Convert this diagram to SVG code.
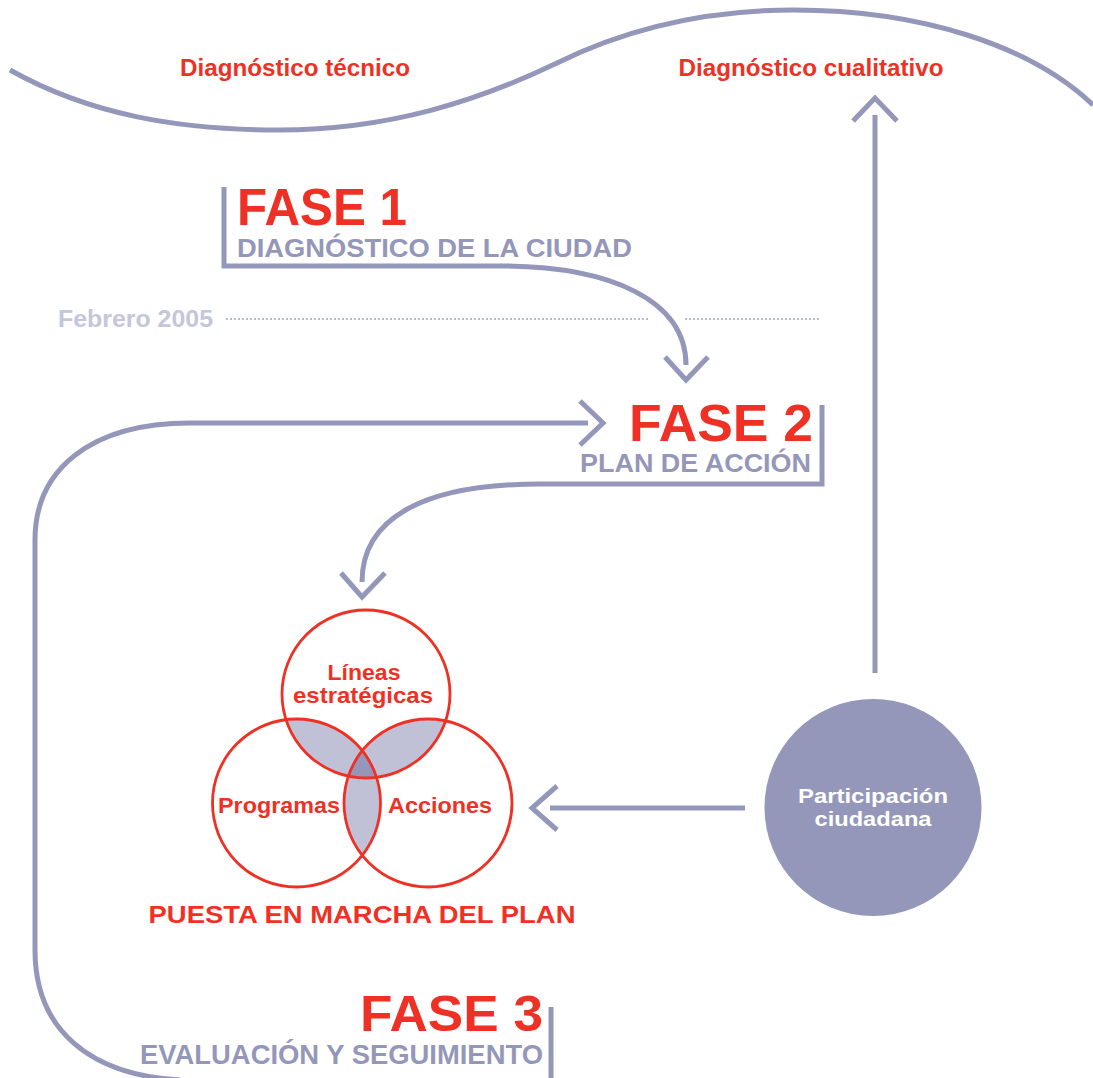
<svg xmlns="http://www.w3.org/2000/svg" width="1093" height="1078" viewBox="0 0 1093 1078">
<style>
.ln{fill:none;stroke:#9497b9;stroke-width:5;stroke-linecap:butt;stroke-linejoin:miter}
.dot{fill:none;stroke:#b9bbd3;stroke-width:2.2;stroke-dasharray:2 2}
.red{fill:#ee3124;font-family:"Liberation Sans",Arial,sans-serif;font-weight:bold}
.gray{fill:#9497b9;font-family:"Liberation Sans",Arial,sans-serif;font-weight:bold}
.vc{fill:none;stroke:#ee3124;stroke-width:2.8}
.lbl{fill:#ee3124;font-family:"Liberation Sans",Arial,sans-serif;font-weight:bold;font-size:22px;text-anchor:middle}
</style>
<defs>
<clipPath id="cT"><circle cx="366" cy="694" r="84"/></clipPath>
<clipPath id="cL"><circle cx="296.5" cy="803" r="84"/></clipPath>
<clipPath id="cR"><circle cx="428" cy="803" r="84"/></clipPath>
</defs>
<rect width="1093" height="1078" fill="#ffffff"/>

<g id="connectors">
<path class="ln" d="M10,70 C90,115 180,130 279,130 C390,130 480,100 557,63 C640,22 720,10 794,10 C920,10 1030,45 1093,105"/>
<path class="ln" d="M875,673 V115"/>
<path class="ln" d="M853,121 L875,98 L897,121"/>
<path class="ln" d="M224,187 V266 H500 C610,266 686,300 686,365"/>
<path class="ln" d="M665,357 L686,380 L708,357"/>
<path class="ln" d="M822,405 V484 H540 C420,484 362,520 362,582"/>
<path class="ln" d="M341,573 L362,597 L385,573"/>
<path class="ln" d="M588,423 H190 C90,423 35,470 35,540 V950 C35,1030 90,1075 180,1080"/>
<path class="ln" d="M580,401 L603,423 L580,445"/>
<path class="ln" d="M745,808 H550"/>
<path class="ln" d="M557,786 L532,808 L557,830"/>
<path class="ln" d="M551,1007 V1078"/>
<path class="dot" d="M226,319 H648 M685,319 H821"/>
</g>

<g id="diag-tecnico"><text class="red" x="295" y="76" font-size="23" text-anchor="middle" textLength="230" lengthAdjust="spacingAndGlyphs">Diagnóstico técnico</text></g>
<g id="diag-cualitativo"><text class="red" x="811" y="76" font-size="23" text-anchor="middle" textLength="265" lengthAdjust="spacingAndGlyphs">Diagnóstico cualitativo</text></g>

<g id="fase1">
<text class="red" x="237" y="225" font-size="51" textLength="170" lengthAdjust="spacingAndGlyphs">FASE 1</text>
<text class="gray" x="237" y="257" font-size="26" textLength="395" lengthAdjust="spacingAndGlyphs">DIAGNÓSTICO DE LA CIUDAD</text>
</g>

<g id="febrero"><text x="58" y="327" font-size="23" fill="#c5c6da" font-family="Liberation Sans,Arial,sans-serif" font-weight="bold" textLength="155" lengthAdjust="spacingAndGlyphs">Febrero 2005</text></g>

<g id="fase2">
<text class="red" x="813" y="441" font-size="52" text-anchor="end" textLength="184" lengthAdjust="spacingAndGlyphs">FASE 2</text>
<text class="gray" x="811" y="472" font-size="25" text-anchor="end" textLength="231" lengthAdjust="spacingAndGlyphs">PLAN DE ACCIÓN</text>
</g>

<g id="venn">
<g fill="#c0c1d7">
<g clip-path="url(#cL)"><circle cx="366" cy="694" r="84"/></g>
<g clip-path="url(#cR)"><circle cx="366" cy="694" r="84"/></g>
<g clip-path="url(#cR)"><circle cx="296.5" cy="803" r="84"/></g>
</g>
<g clip-path="url(#cL)"><g clip-path="url(#cR)"><circle cx="366" cy="694" r="84" fill="#9497b9"/></g></g>
<circle class="vc" cx="366" cy="694" r="84"/>
<circle class="vc" cx="296.5" cy="803" r="84"/>
<circle class="vc" cx="428" cy="803" r="84"/>
<text class="lbl" x="364" y="680" textLength="73" lengthAdjust="spacingAndGlyphs">Líneas</text>
<text class="lbl" x="363" y="703" textLength="140" lengthAdjust="spacingAndGlyphs">estratégicas</text>
<text class="lbl" x="279" y="813" textLength="122" lengthAdjust="spacingAndGlyphs">Programas</text>
<text class="lbl" x="440" y="813" textLength="104" lengthAdjust="spacingAndGlyphs">Acciones</text>
</g>

<g id="puesta"><text class="red" x="362" y="923" font-size="24" text-anchor="middle" textLength="427" lengthAdjust="spacingAndGlyphs">PUESTA EN MARCHA DEL PLAN</text></g>

<g id="participacion">
<circle cx="873" cy="807.5" r="108.5" fill="#9497b9"/>
<text x="873" y="803" fill="#ffffff" font-family="Liberation Sans,Arial,sans-serif" font-weight="bold" font-size="21" text-anchor="middle" textLength="150" lengthAdjust="spacingAndGlyphs">Participación</text>
<text x="873" y="826" fill="#ffffff" font-family="Liberation Sans,Arial,sans-serif" font-weight="bold" font-size="21" text-anchor="middle" textLength="117" lengthAdjust="spacingAndGlyphs">ciudadana</text>
</g>

<g id="fase3">
<text class="red" x="543" y="1031" font-size="50" text-anchor="end" textLength="183" lengthAdjust="spacingAndGlyphs">FASE 3</text>
<text class="gray" x="543" y="1064" font-size="27" text-anchor="end" textLength="403" lengthAdjust="spacingAndGlyphs">EVALUACIÓN Y SEGUIMIENTO</text>
</g>
</svg>
